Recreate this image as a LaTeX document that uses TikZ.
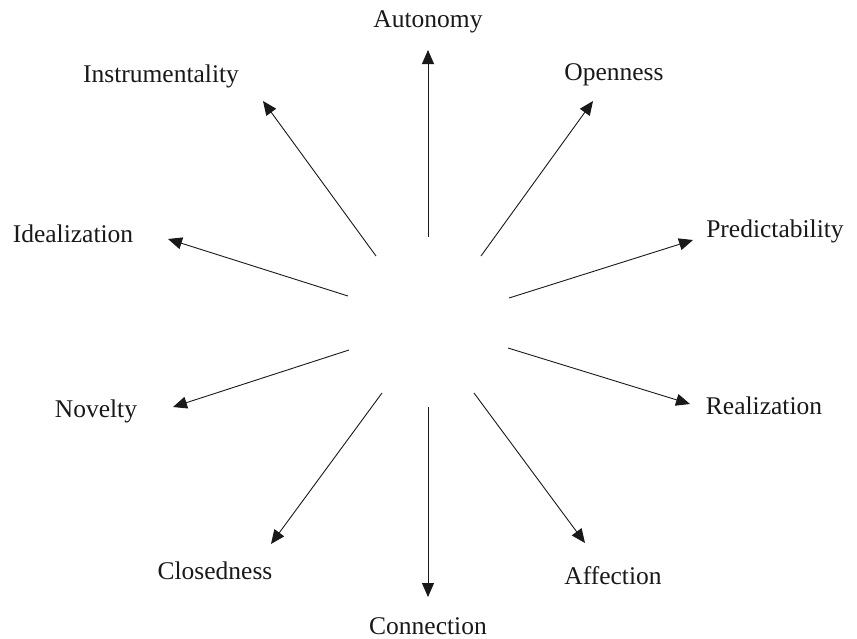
\documentclass[tikz,border=0pt]{standalone}
\usepackage{fontspec}
\setmainfont{Liberation Serif}
\usetikzlibrary{arrows.meta}
\begin{document}
\begin{tikzpicture}[x=1pt,y=-1pt,
  lbl/.style={anchor=base,inner sep=0pt,font=\fontsize{25.5}{30}\selectfont,text=black!90},
  ray/.style={line width=0.9pt,draw=black!90,-{Triangle[length=14pt,width=12pt]}}]
\useasboundingbox (0,0) rectangle (857,638);
% labels
\node[lbl] (aut) at (428,27) {Autonomy};
\node[lbl] (ins) at (161,82) {Instrumentality};
\node[lbl] (ope) at (614,80) {Openness};
\node[lbl] (pre) at (775,237) {Predictability};
\node[lbl] (rea) at (764,414) {Realization};
\node[lbl] (aff) at (613,584) {Affection};
\node[lbl] (con) at (428,634) {Connection};
\node[lbl] (clo) at (215,579) {Closedness};
\node[lbl] (nov) at (96,417) {Novelty};
\node[lbl] (ide) at (73,242) {Idealization};
% start points
\coordinate (sAut) at (428,237);
\coordinate (sIns) at (376,256);
\coordinate (sOpe) at (481,256);
\coordinate (sIde) at (348,296);
\coordinate (sPre) at (509,298);
\coordinate (sNov) at (349,350);
\coordinate (sRea) at (508,348);
\coordinate (sClo) at (382,393);
\coordinate (sCon) at (428,407);
\coordinate (sAff) at (474,393);
% tips
\coordinate (tAut) at (428,50);
\coordinate (tIns) at (263,101);
\coordinate (tOpe) at (593,101);
\coordinate (tPre) at (693,240);
\coordinate (tRea) at (690,404);
\coordinate (tAff) at (585,543);
\coordinate (tCon) at (428,597);
\coordinate (tClo) at (271,544);
\coordinate (tNov) at (173,407);
\coordinate (tIde) at (168,239);
% rays
\draw[ray] (sAut) -- (tAut);
\draw[ray] (sIns) -- (tIns);
\draw[ray] (sOpe) -- (tOpe);
\draw[ray] (sPre) -- (tPre);
\draw[ray] (sRea) -- (tRea);
\draw[ray] (sAff) -- (tAff);
\draw[ray] (sCon) -- (tCon);
\draw[ray] (sClo) -- (tClo);
\draw[ray] (sNov) -- (tNov);
\draw[ray] (sIde) -- (tIde);
\end{tikzpicture}
\end{document}
